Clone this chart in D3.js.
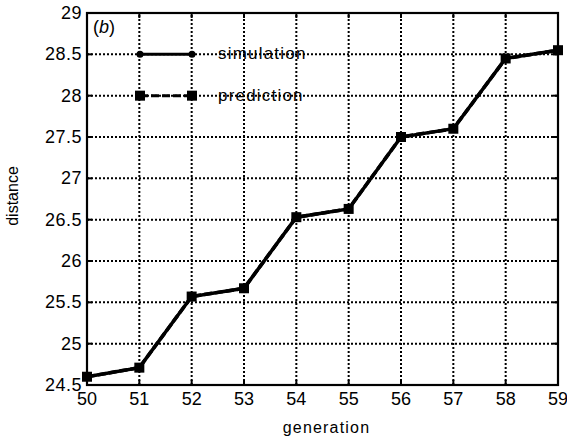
<!DOCTYPE html>
<html><head><meta charset="utf-8">
<script src="https://cdn.jsdelivr.net/npm/d3@7/dist/d3.min.js"></script>
<style>body{margin:0;background:#fff}svg{display:block}text{font-family:"Liberation Sans",Arial,sans-serif}</style>
</head><body>
<script>
const generations = [50,51,52,53,54,55,56,57,58,59];
const simulation = [24.60,24.71,25.57,25.67,26.53,26.63,27.50,27.60,28.45,28.55];
const prediction = [24.60,24.71,25.57,25.67,26.53,26.63,27.50,27.60,28.45,28.55];
const xTicks = [50,51,52,53,54,55,56,57,58,59];
const yTicks = [24.5,25,25.5,26,26.5,27,27.5,28,28.5,29];
const seriesNames = ["simulation","prediction"];

const W=567,H=441;
const m={l:87,r:9,t:13,b:56};
const svg=d3.select("body").append("svg").attr("width",W).attr("height",H);
const x=d3.scaleLinear().domain([50,59]).range([m.l,W-m.r]);
const y=d3.scaleLinear().domain([24.5,29]).range([H-m.b,m.t]);
const x0=m.l,x1=W-m.r,y0=H-m.b,y1=m.t;

// grid
const g=svg.append("g");
g.selectAll(".gx").data(xTicks.slice(1,-1)).enter().append("line")
 .attr("x1",d=>x(d)).attr("x2",d=>x(d)).attr("y1",y0).attr("y2",y1)
 .attr("stroke","#000").attr("stroke-width",2).attr("stroke-dasharray","2,2");
g.selectAll(".gy").data(yTicks.slice(1,-1)).enter().append("line")
 .attr("y1",d=>y(d)).attr("y2",d=>y(d)).attr("x1",x0).attr("x2",x1)
 .attr("stroke","#000").attr("stroke-width",2).attr("stroke-dasharray","2,2");

// ticks inward
const tl=5;
xTicks.forEach(t=>{
  svg.append("line").attr("x1",x(t)).attr("x2",x(t)).attr("y1",y0).attr("y2",y0-tl).attr("stroke","#000").attr("stroke-width",2);
  svg.append("line").attr("x1",x(t)).attr("x2",x(t)).attr("y1",y1).attr("y2",y1+tl).attr("stroke","#000").attr("stroke-width",2);
});
yTicks.forEach(t=>{
  svg.append("line").attr("y1",y(t)).attr("y2",y(t)).attr("x1",x0).attr("x2",x0+tl).attr("stroke","#000").attr("stroke-width",2);
  svg.append("line").attr("y1",y(t)).attr("y2",y(t)).attr("x1",x1).attr("x2",x1-tl).attr("stroke","#000").attr("stroke-width",2);
});

// frame
svg.append("rect").attr("x",x0).attr("y",y1).attr("width",x1-x0).attr("height",y0-y1)
 .attr("fill","none").attr("stroke","#000").attr("stroke-width",2.2);

// tick labels
svg.selectAll(".xl").data(xTicks).enter().append("text")
 .attr("x",d=>x(d)).attr("y",y0+20).attr("text-anchor","middle")
 .attr("font-size",18).text(d=>d);
svg.selectAll(".yl").data(yTicks).enter().append("text")
 .attr("x",x0-5).attr("y",d=>y(d)+6).attr("text-anchor","end")
 .attr("font-size",18).attr("letter-spacing","0.5px").text(d=>d);

// axis labels
svg.append("text").attr("x",(x0+x1)/2+4).attr("y",433).attr("text-anchor","middle")
 .attr("font-size",16).attr("letter-spacing","1.2px").text("generation");
svg.append("text").attr("transform",`translate(18,${(y0+y1)/2-3}) rotate(-90)`).attr("text-anchor","middle")
 .attr("font-size",16).text("distance");

// (b)
const tb=svg.append("text").attr("x",x0+6).attr("y",y1+20).attr("font-size",18);
tb.append("tspan").text("(");
tb.append("tspan").attr("font-style","italic").text("b");
tb.append("tspan").text(")");

// series
const line=d3.line().x((d,i)=>x(generations[i])).y(d=>y(d));
svg.append("path").datum(simulation).attr("d",line).attr("fill","none").attr("stroke","#000").attr("stroke-width",3.5);
svg.selectAll(".cs").data(simulation).enter().append("circle")
 .attr("cx",(d,i)=>x(generations[i])).attr("cy",d=>y(d)).attr("r",3.5).attr("fill","#000");
svg.append("path").datum(prediction).attr("d",line).attr("fill","none").attr("stroke","#000").attr("stroke-width",3.5).attr("stroke-dasharray","8,3");
const sq=10;
svg.selectAll(".sp").data(prediction).enter().append("rect")
 .attr("x",(d,i)=>x(generations[i])-sq/2).attr("y",d=>y(d)-sq/2).attr("width",sq).attr("height",sq).attr("fill","#000");

// legend
const lx0=140,lx1=192,ltx=218;
const ly=[y(28.5),y(28)];
svg.append("line").attr("x1",lx0).attr("x2",lx1).attr("y1",ly[0]).attr("y2",ly[0]).attr("stroke","#000").attr("stroke-width",3);
[lx0,lx1].forEach(px=>svg.append("circle").attr("cx",px).attr("cy",ly[0]).attr("r",3.5).attr("fill","#000"));
svg.append("line").attr("x1",lx0).attr("x2",lx1).attr("y1",ly[1]).attr("y2",ly[1]).attr("stroke","#000").attr("stroke-width",3).attr("stroke-dasharray","8,3");
[lx0,lx1].forEach(px=>svg.append("rect").attr("x",px-5).attr("y",ly[1]-5).attr("width",10).attr("height",10).attr("fill","#000"));
seriesNames.forEach((n,i)=>svg.append("text").attr("x",ltx).attr("y",ly[i]+5).attr("font-size",17).attr("letter-spacing","1.2px").text(n));
</script>
</body></html>
